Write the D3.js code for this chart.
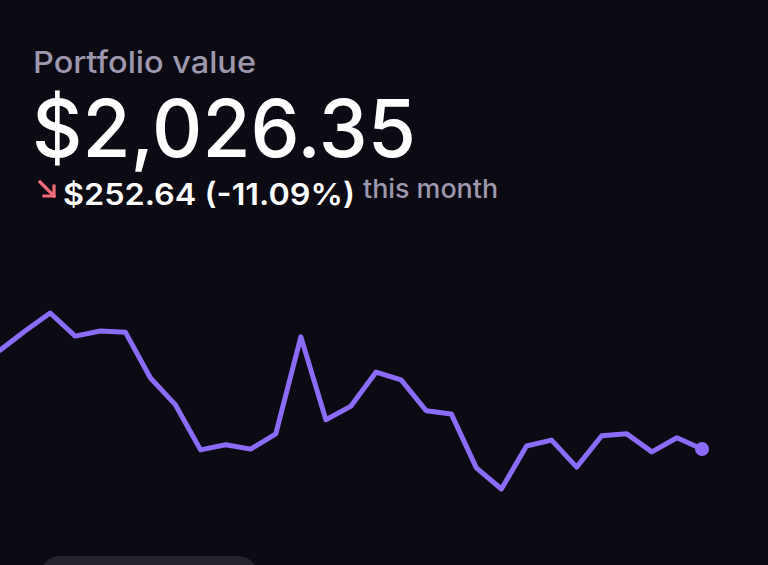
<!DOCTYPE html>
<html>
<head>
<meta charset="utf-8">
<script src="https://cdn.jsdelivr.net/npm/d3@7"></script>
<style>
  html, body { margin: 0; padding: 0; background: #0c0a13; }
  svg { display: block; }
</style>
</head>
<body>
<div id="chart"></div>
<script>
// daily portfolio values over the month
const days = d3.range(29);
const values = [2279, 2328, 2374, 2315, 2328, 2325, 2208, 2139, 2024, 2037,
  2026, 2065, 2313, 2101, 2136, 2223, 2203, 2124, 2116, 1978,
  1924, 2034, 2049, 1980, 2060, 2065, 2019, 2055, 2026.35];
const label = "Portfolio value";
const total = "$2,026.35";
const change = "$252.64 (-11.09%)";
const period = "this month";

const W = 768, H = 565;
const svg = d3.select("#chart").append("svg")
  .attr("width", W).attr("height", H);

svg.append("rect").attr("width", W).attr("height", H).attr("fill", "#0c0a13");

const font = "Inter, 'Noto Sans', sans-serif";

svg.append("text").attr("x", 33).attr("y", 73)
  .attr("font-family", font).attr("font-size", 30).attr("font-weight", 500)
  .attr("textLength", 223).attr("lengthAdjust", "spacingAndGlyphs")
  .attr("fill", "#9d98ae").text(label);

svg.append("text").attr("x", 32).attr("y", 157)
  .attr("font-family", font).attr("font-size", 80).attr("font-weight", 500)
  .attr("textLength", 384).attr("lengthAdjust", "spacingAndGlyphs")
  .attr("fill", "#ffffff").text(total);

// down arrow
const arrow = svg.append("g").attr("stroke", "#f26b7b").attr("stroke-width", 3.2)
  .attr("fill", "none").attr("stroke-linecap", "square");
arrow.append("path").attr("d", "M40,182 L54,196");
arrow.append("path").attr("d", "M44,196 L54,196 L54,186");

svg.append("text").attr("x", 63).attr("y", 205)
  .attr("font-family", font).attr("font-size", 30).attr("font-weight", 600)
  .attr("textLength", 292).attr("lengthAdjust", "spacingAndGlyphs")
  .attr("fill", "#ffffff").text(change);
svg.append("text").attr("x", 363).attr("y", 198)
  .attr("font-family", font).attr("font-size", 26).attr("font-weight", 500)
  .attr("textLength", 135).attr("lengthAdjust", "spacingAndGlyphs")
  .attr("fill", "#9d98ae").text(period);

const x = d3.scaleLinear().domain([0, 28]).range([0, 702]);
const y = d3.scaleLinear().domain([1924, 2374]).range([489, 313]);

svg.append("path").datum(values)
  .attr("fill", "none").attr("stroke", "#8b6cf6").attr("stroke-width", 5)
  .attr("stroke-linejoin", "round").attr("stroke-linecap", "round")
  .attr("d", d3.line().x((d, i) => x(days[i])).y(d => y(d)));

svg.append("circle").attr("cx", x(28)).attr("cy", y(values[28]))
  .attr("r", 7).attr("fill", "#8b6cf6");

// bottom pill
svg.append("rect").attr("x", 40).attr("y", 556).attr("width", 218).attr("height", 40)
  .attr("rx", 20).attr("fill", "#24222b");
</script>
</body>
</html>
